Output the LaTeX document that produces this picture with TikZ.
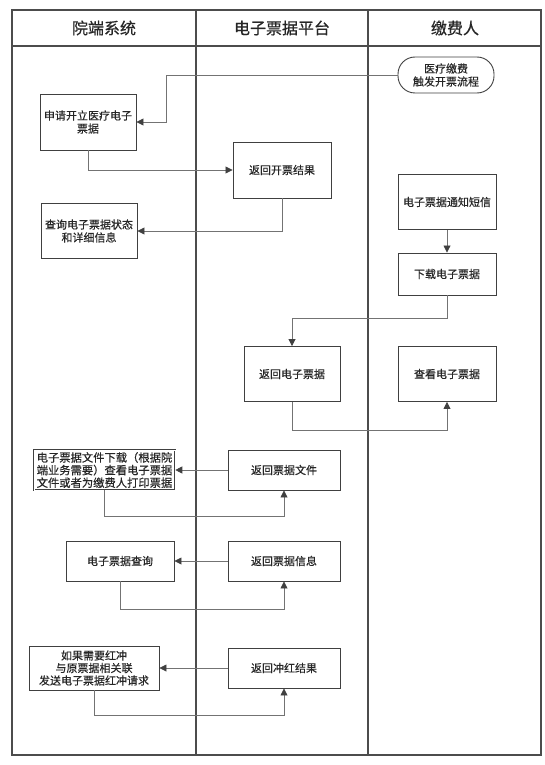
\documentclass[tikz,border=0pt]{standalone}
\usepackage{fontspec}
\setmainfont{Noto Sans CJK SC}
\newfontfamily\nodefont{Noto Sans CJK SC}[FakeBold=0.35]
\newfontfamily\headfont{Noto Sans CJK SC}[FakeBold=0.6]
\usetikzlibrary{arrows.meta}
\begin{document}
\begin{tikzpicture}[x=1pt,y=-1pt,
  lane/.style={draw=black!70, line width=1.3pt},
  head/.style={font=\headfont\fontsize{16}{18}\selectfont, text=black!85},
  box/.style={draw=black!75, line width=0.9pt, fill=white, align=center,
    font=\nodefont\fontsize{11}{13}\selectfont, inner sep=1pt, text=black!85},
  term/.style={box, rounded corners=17pt},
  conn/.style={draw=black!55, line width=0.8pt,
    -{Triangle[length=7pt,width=7pt,fill=black!75,color=black!75]}}]
\useasboundingbox (0,0) rectangle (545,765);
% lanes
\draw[lane] (12,10) rectangle (541,755);
\draw[lane] (12,46) -- (541,46);
\draw[lane] (196,10) -- (196,755);
\draw[lane] (368,10) -- (368,755);
\node[head] (h1) at (104,28) {院端系统};
\node[head] (h2) at (282,28) {电子票据平台};
\node[head] (h3) at (455,28) {缴费人};
% nodes
\node[term, minimum width=96, minimum height=36] (start) at (446,75) {医疗缴费\\触发开票流程};
\node[box, minimum width=96, minimum height=56] (apply) at (88,122) {申请开立医疗电子\\票据};
\node[box, minimum width=98, minimum height=56] (result) at (282,170) {返回开票结果};
\node[box, minimum width=96, minimum height=55] (query) at (89,231) {查询电子票据状态\\和详细信息};
\node[box, minimum width=98, minimum height=55] (sms) at (447,202) {电子票据通知短信};
\node[box, minimum width=98, minimum height=42] (dl) at (447,274) {下载电子票据};
\node[box, minimum width=96, minimum height=55] (ret) at (292,374) {返回电子票据};
\node[box, minimum width=98, minimum height=55] (view) at (447,374) {查看电子票据};
\node[box, line width=0.6pt, double=white, double distance=0.6pt,
  minimum width=141, minimum height=40, inner sep=0.5pt,
  font=\nodefont\fontsize{11.3}{12.6}\selectfont] (file) at (104.5,470)
  {电子票据文件下载（根据院\\端业务需要）查看电子票据\\文件或者为缴费人打印票据};
\node[box, minimum width=112, minimum height=40] (retfile) at (284,470) {返回票据文件};
\node[box, minimum width=108, minimum height=40] (qry) at (120,561) {电子票据查询};
\node[box, minimum width=112, minimum height=40] (retinfo) at (284,561) {返回票据信息};
\node[box, minimum width=130, minimum height=44, font=\nodefont\fontsize{11}{12.5}\selectfont] (red) at (94,668) {如果需要红冲\\与原票据相关联\\发送电子票据红冲请求};
\node[box, minimum width=112, minimum height=40] (retred) at (284,668) {返回冲红结果};
% connectors
\draw[conn] (start.west) -- ++(-231,0) |- (apply.east);
\draw[conn] (apply.south) |- (result.west);
\draw[conn] (result.south) |- (query.east);
\draw[conn] (sms.south) -- (dl.north);
\draw[conn] (dl.south) -- ++(0,23) -| (ret.north);
\draw[conn] (ret.south) -- ++(0,28) -| (view.south);
\draw[conn] (retfile.west) -- (file.east);
\draw[conn] (file.south) -- ++(0,26) -| (retfile.south);
\draw[conn] (retinfo.west) -- (qry.east);
\draw[conn] (qry.south) -- ++(0,28) -| (retinfo.south);
\draw[conn] (retred.west) -- (red.east);
\draw[conn] (red.south) -- ++(0,25) -| (retred.south);
\end{tikzpicture}
\end{document}
